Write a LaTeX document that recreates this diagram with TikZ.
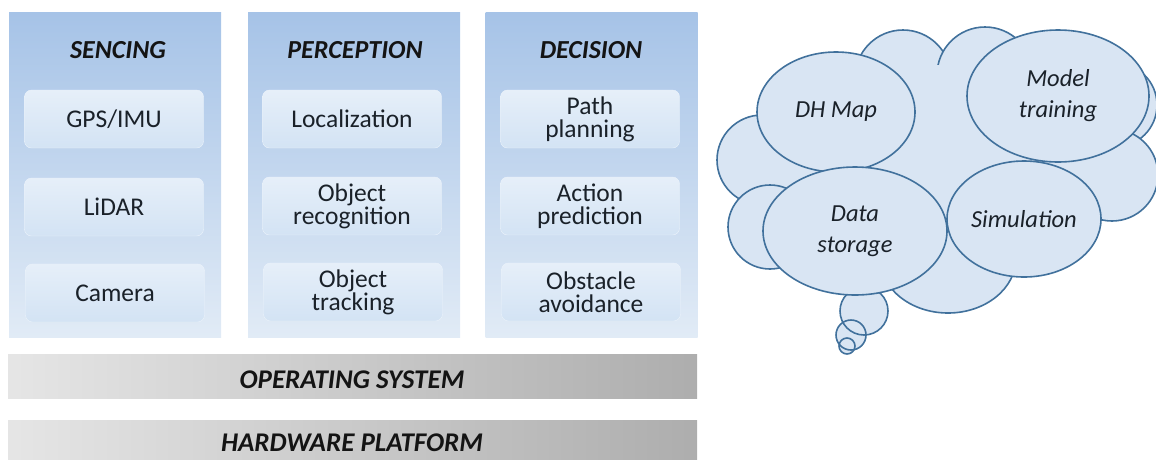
\documentclass[tikz,border=0pt]{standalone}
\usepackage{fontspec}
\setmainfont{Carlito}
\usetikzlibrary{shapes.geometric}
\definecolor{panelTop}{HTML}{A6C3E7}
\definecolor{panelBot}{HTML}{E1EBF6}
\definecolor{boxTop}{HTML}{E6EFF9}
\definecolor{boxBot}{HTML}{D3E3F4}
\definecolor{cloudLine}{HTML}{41719C}
\definecolor{cloudFill}{HTML}{D9E5F3}
\definecolor{txt}{HTML}{1A2129}
\tikzset{
  panel/.style={rectangle, minimum width=212pt, minimum height=325pt, inner sep=0pt,
    top color=panelTop, bottom color=panelBot, draw=none},
  hdr/.style={font=\fontsize{26}{26}\selectfont\bfseries\itshape, text=black!92},
  itembox/.style={rectangle, rounded corners=7pt, minimum width=179pt, minimum height=58pt,
    inner sep=0pt, align=center, top color=boxTop, bottom color=boxBot, draw=white!60!boxBot,
    font=\fontsize{25.5}{23}\selectfont, text=txt},
  bar/.style={rectangle, minimum width=689pt, minimum height=44pt, inner sep=0pt,
    left color=black!10, right color=black!32, draw=none},
  bartext/.style={font=\fontsize{27}{27}\selectfont\bfseries\itshape, text=black!92},
  bump/.style={draw=cloudLine, fill=cloudFill, line width=1.6pt},
  bubble/.style={ellipse, draw=cloudLine, fill=cloudFill, line width=1.6pt, inner sep=0pt,
    align=center, font=\fontsize{24.5}{31}\selectfont\itshape, text=txt},
  dot/.style={circle, draw=cloudLine, line width=1.6pt, inner sep=0pt}
}
\begin{document}
\begin{tikzpicture}[x=1pt,y=-1pt]
\useasboundingbox (0,0) rectangle (1156,459);
\begin{scope}
\clip (0,0) rectangle (1156,459);
% panels
\node[panel] (sen) at (115,174.5) {};
\node[panel] (per) at (354,174.5) {};
\node[panel] (dec) at (591.5,174.5) {};
\node[hdr] (senh) at (118,50) {SENCING};
\node[hdr] (perh) at (355,50) {PERCEPTION};
\node[hdr] (dech) at (591,50) {DECISION};
% items
\node[itembox] (gps) at (114,119) {GPS/IMU};
\node[itembox] (lidar) at (114,207) {LiDAR};
\node[itembox] (cam) at (115,293) {Camera};
\node[itembox] (loc) at (352,119) {Localization};
\node[itembox] (orec) at (352,206) {Object\\recognition};
\node[itembox] (otrk) at (353,292) {Object\\tracking};
\node[itembox] (path) at (590,119) {Path\\planning};
\node[itembox] (act) at (590,206) {Action\\prediction};
\node[itembox] (obst) at (591,292) {Obstacle\\avoidance};
% bars
\node[bar] (os) at (352.5,376) {};
\node[bartext] (ost) at (352,380) {OPERATING SYSTEM};
\node[bar] (hw) at (352.5,442) {};
\node[bartext] (hwt) at (352,443) {HARDWARE PLATFORM};
% thought circles
\fill[cloudFill] (864,311) circle (24pt);
\fill[cloudFill] (851,335) circle (15pt);
\fill[cloudFill] (847,346) circle (8pt);
\node[dot, minimum size=48pt] (t1) at (864,311) {};
\node[dot, minimum size=30pt] (t2) at (851,335) {};
\node[dot, minimum size=16pt] (t3) at (847,346) {};
% cloud back bumps
\path[bump] (903,78) circle (48pt);
\path[bump] (985,75) circle (48pt);
\path[bump] (1115,105) circle (42pt);
\path[bump] (1112,175) circle (46pt);
\path[bump] (762,160) circle (45pt);
\path[bump] (770,227) circle (42pt);
\path[bump] (948,258) ellipse [x radius=68pt, y radius=55pt];
\fill[cloudFill] (945,170) ellipse [x radius=160pt, y radius=105pt];
% front bubbles
\node[bubble, minimum width=158pt, minimum height=120pt] (dh) at (836,112) {DH Map};
\node[bubble, minimum width=182pt, minimum height=132pt] (mt) at (1058,96) {Model\\training};
\node[bubble, minimum width=154pt, minimum height=116pt] (sim) at (1024,219) {Simulation};
\node[bubble, minimum width=184pt, minimum height=128pt] (ds) at (855,231) {Data\\storage};
\end{scope}
\end{tikzpicture}
\end{document}
